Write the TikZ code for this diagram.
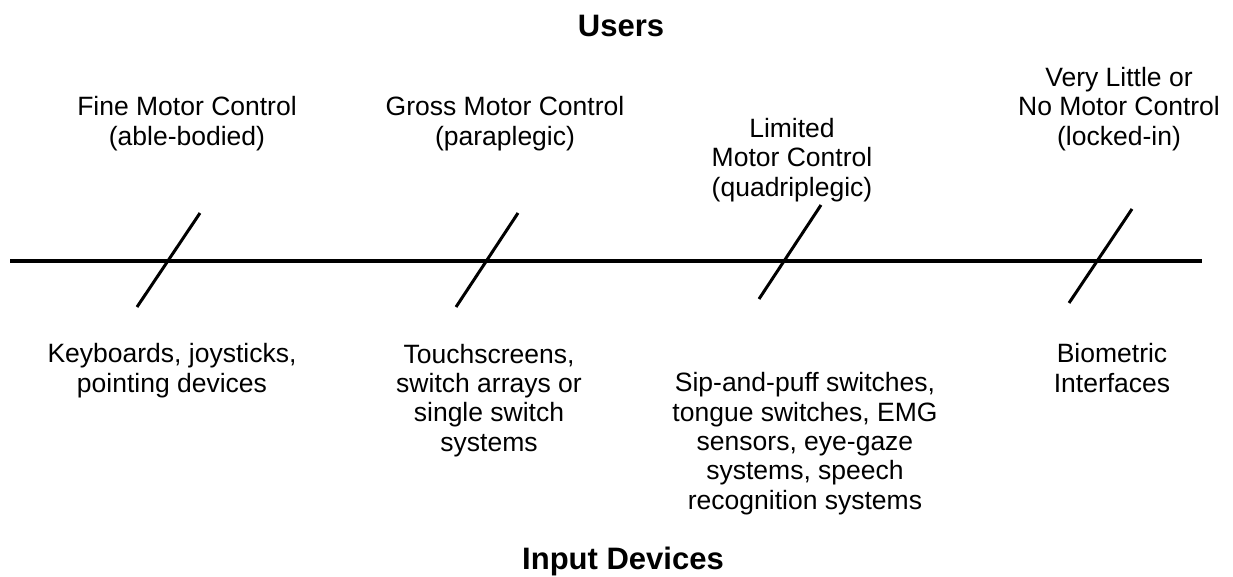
\documentclass[tikz,border=0pt]{standalone}
\usepackage{fontspec}
\setmainfont{Liberation Sans}
\begin{document}
\begin{tikzpicture}[x=1pt,y=-1pt,
  lbl/.style={inner sep=0pt,align=center,anchor=base,
    font=\fontsize{26.5}{29.3}\selectfont},
  ttl/.style={inner sep=0pt,anchor=base,font=\fontsize{31}{34}\selectfont\bfseries},
  axis/.style={line width=4.5pt},
  tick/.style={line width=3pt}]
\useasboundingbox (0,0) rectangle (1233,576);

% headings
\node[ttl] (users) at (621,36) {Users};
\node[ttl] (devices) at (623,569) {Input Devices};

% the continuum line
\coordinate (l0) at (10,261);
\coordinate (l1) at (1202,261);
\draw[axis] (l0) -- (l1);

% slash marks
\coordinate (a1) at (200,213); \coordinate (b1) at (137,307);
\coordinate (a2) at (518,213); \coordinate (b2) at (456,307);
\coordinate (a3) at (821,205); \coordinate (b3) at (759,299);
\coordinate (a4) at (1132,209); \coordinate (b4) at (1069,303);
\draw[tick] (a1) -- (b1);
\draw[tick] (a2) -- (b2);
\draw[tick] (a3) -- (b3);
\draw[tick] (a4) -- (b4);

% user groups (anchored at the baseline of the last line)
\node[lbl] (u1) at (187,145) {Fine Motor Control\\(able-bodied)};
\node[lbl] (u2) at (505,145) {Gross Motor Control\\(paraplegic)};
\node[lbl] (u3) at (792,196) {Limited\\Motor Control\\(quadriplegic)};
\node[lbl] (u4) at (1119,145) {Very Little or\\No Motor Control\\(locked-in)};

% input devices
\node[lbl] (d1) at (172,392) {Keyboards, joysticks,\\pointing devices};
\node[lbl] (d2) at (489,451) {Touchscreens,\\switch arrays or\\single switch\\systems};
\node[lbl] (d3) at (805,509) {Sip-and-puff switches,\\tongue switches, EMG\\sensors, eye-gaze\\systems, speech\\recognition systems};
\node[lbl] (d4) at (1112,392) {Biometric\\Interfaces};
\end{tikzpicture}
\end{document}
